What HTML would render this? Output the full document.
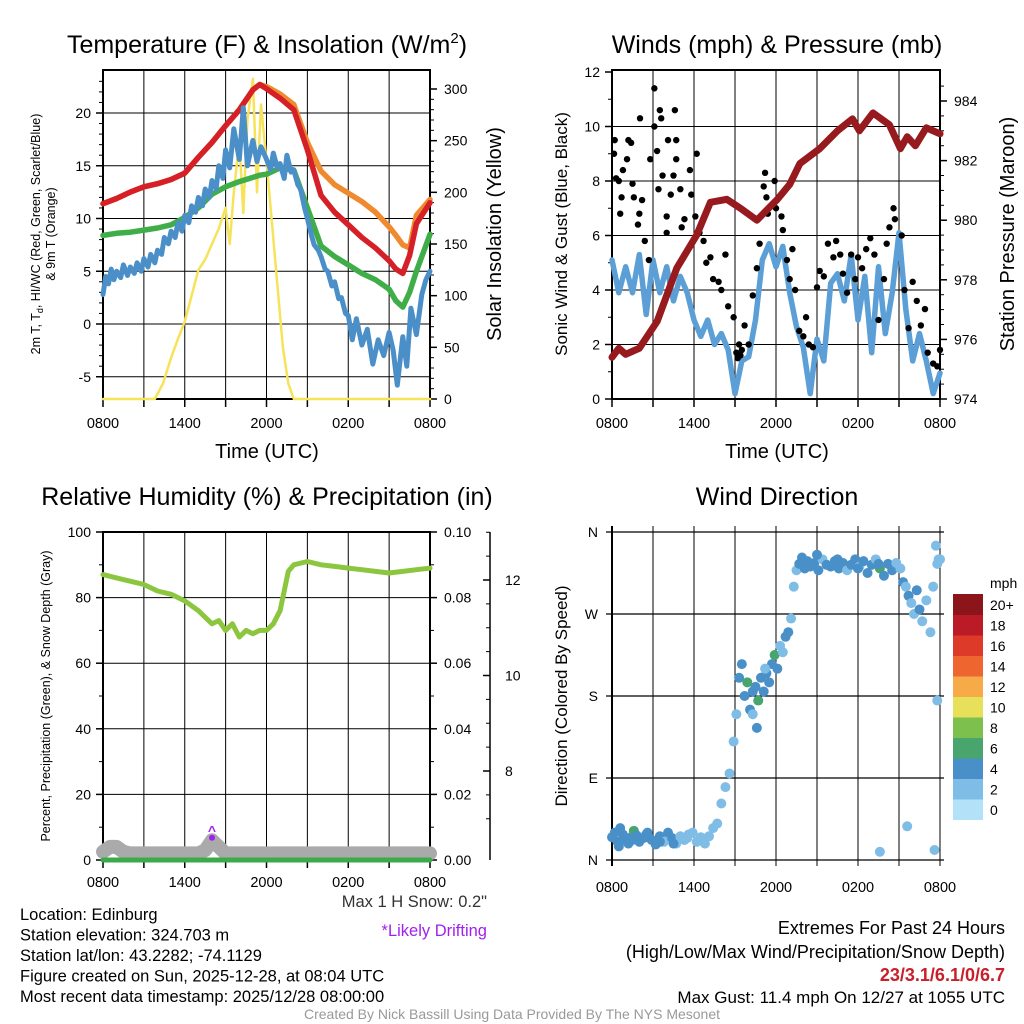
<!DOCTYPE html>
<html><head><meta charset="utf-8"><style>
html,body{margin:0;padding:0;background:#fff;}
svg{display:block;font-family:"Liberation Sans",Arial,sans-serif;}
</style></head><body>
<svg id="s" width="1024" height="1024" viewBox="0 0 1024 1024" xmlns="http://www.w3.org/2000/svg"></svg>
<script>
// ---------- DATA ----------
const hoursLabels = ["0800","1400","2000","0200","0800"];
const tempHours = [0,1,2,3,4,5,6,7,8,9,10,11,11.5,12,13,14,15,16,17,18,19,20,21,21.5,22,22.5,23,24];
const tempRed   = [11.4,11.9,12.5,13.0,13.3,13.7,14.3,15.8,17.2,18.8,20.3,22.2,22.7,22.3,21.4,20.3,16.5,12.2,10.6,9.4,8.2,7.2,6.0,5.2,4.8,6.5,9.5,11.5];
const tempOrange= [11.4,11.9,12.5,13.0,13.3,13.7,14.3,15.8,17.2,18.8,20.3,22.2,22.7,22.5,21.8,20.8,17.2,14.5,13.2,12.4,11.6,10.6,9.2,8.4,7.5,7.2,10.3,11.8];
const tempGreen = [8.4,8.6,8.7,8.9,9.1,9.4,10.1,11.0,12.3,13.0,13.5,13.9,14.1,14.2,14.8,14.6,11.0,7.4,6.4,5.6,4.8,4.2,3.3,2.2,1.6,3.0,5.0,8.5];
const dewHours = [0,0.2,0.4,0.6,0.8,1,1.3,1.5,1.8,2,2.3,2.5,2.8,3,3.3,3.5,3.8,4,4.3,4.5,4.8,5,5.3,5.5,5.8,6,6.3,6.5,6.8,7,7.3,7.5,7.8,8,8.3,8.5,8.8,9,9.3,9.6,10,10.3,10.6,11,11.3,11.6,12,12.3,12.5,12.8,13,13.3,13.5,13.8,14,14.3,14.5,14.8,15,15.3,15.5,15.8,16,16.3,16.5,16.8,17,17.3,17.5,17.8,18,18.3,18.6,19,19.4,19.8,20.2,20.6,21,21.3,21.6,22,22.3,22.6,23,23.4,23.7,24];
const dewVals  = [2.8,4.5,3.8,5.2,4.2,5.0,4.4,5.6,4.6,5.4,4.8,5.8,5.0,6.2,5.4,6.6,5.8,7.0,6.6,8.2,7.6,8.8,8.2,9.6,8.8,10.3,9.6,11.2,10.6,12.0,11.2,12.8,12.0,13.6,12.8,15.0,13.8,16.5,14.8,18.5,15.6,20.5,15.0,17.4,15.4,16.8,15.6,14.6,16.2,14.8,15.2,13.8,16.0,14.4,14.6,13.2,12.8,11.0,10.0,8.4,7.5,7.0,6.4,5.2,5.0,3.6,4.0,2.4,2.5,1.0,0.8,-1.5,0.5,-2.0,-0.5,-3.8,-1.5,-3.0,-0.8,-2.5,-5.8,-1.2,-4.0,1.5,-1.0,2.8,4.2,5.0];
const solarHours = [0,3.8,4.4,5,5.5,6,6.5,7,7.5,8,8.5,9,9.3,9.6,10,10.3,10.6,11,11.3,11.6,12,12.4,12.8,13.2,13.6,14,24];
const solarVals  = [0,0,15,40,58,75,100,125,135,150,165,185,150,200,250,180,270,310,200,285,230,170,110,50,15,0,0];
const windHours = [0,0.5,1,1.5,2,2.5,3,3.5,4,4.5,5,5.5,6,6.5,7,7.5,8,8.5,9,9.5,10,10.5,11,11.5,12,12.5,13,13.5,14,14.5,15,15.5,16,16.5,17,17.5,18,18.5,19,19.5,20,20.5,21,21.5,22,22.5,23,23.5,24];
const windVals  = [5.1,3.9,4.85,3.9,5.3,3.1,5.1,3.9,4.85,3.6,4.5,3.9,2.9,2.3,2.9,2.0,2.4,1.8,0.2,1.4,1.55,2.9,5.1,5.7,4.85,5.6,3.9,2.65,1.9,0.2,2.2,1.4,4.25,4.6,3.6,5.3,2.9,4.5,1.7,4.85,2.4,3.9,6.1,3.3,1.4,2.4,1.4,0.2,0.95];
const gustHours = [0.15,0.2,0.3,0.5,0.7,0.6,0.8,1.2,1.4,1.1,1.5,1.6,1.9,2.05,2,2.2,2.4,2.7,2.8,3.1,3.1,3.3,3.5,3.6,3.4,3.7,4,4,4.1,4.3,4.6,4.7,4.7,4.5,5,5.1,5.3,5.7,5.8,6.1,6.2,6.4,6.7,6.9,7.2,7.4,7.8,8,8.3,8.5,8.9,9.1,9.2,9.3,9.4,9.5,9.7,10,10.3,10.6,10.8,11.1,11.2,11.3,11.4,11.9,12,12.4,12.5,12.8,13,13.2,13.4,13.7,14,14.2,14.4,14.7,15,15.2,15.5,15.8,16.2,16.4,16.7,16.9,17.2,17.5,17.8,18,18.3,18.6,18.9,19.2,19.5,19.9,20.1,20.3,20.6,20.7,21.2,21.4,21.7,22,22.3,22.6,22.9,23.1,23.5,23.8,24];
const gustVals  = [9.0,9.5,8.1,8.0,7.4,6.8,8.4,9.5,9.4,8.8,7.9,7.4,6.4,10.3,6.8,7.3,5.8,5.1,8.8,11.4,10.0,9.1,10.6,10.3,7.7,8.2,6.7,6.1,9.5,7.5,10.6,9.5,8.8,8.2,7.7,6.3,6.6,8.4,7.5,6.7,9.0,6.1,5.8,5.0,5.2,4.4,4.3,4.0,5.3,3.4,3.0,1.7,1.5,2.0,1.6,1.8,2.7,2.0,3.8,4.8,5.7,7.8,8.3,7.4,6.8,8.0,7.0,6.7,6.2,5.1,4.4,5.5,4.0,2.5,2.3,3.0,2.0,1.9,4.1,4.7,4.5,5.7,5.2,5.8,5.3,4.6,3.9,5.3,4.4,5.2,4.8,5.5,5.9,5.3,2.9,4.4,5.7,6.3,7.0,6.6,6.0,4.0,2.6,4.3,3.6,2.7,3.3,1.7,1.3,1.2,1.8];
const presHours = [0,0.5,1,2,3.3,4.75,6.2,7.2,8.4,9.4,10.6,12.1,13,13.75,15.2,16.5,17.6,18.1,19.1,20.3,21.1,21.6,22.2,23,24];
const presVals  = [975.4,975.7,975.5,975.7,976.6,978.4,979.5,980.6,980.7,980.4,980.0,980.7,981.2,981.9,982.4,983.0,983.4,983.0,983.6,983.2,982.4,982.8,982.5,983.1,982.9];
const rhHours = [0,1,2,3,4,5,6,7,7.5,8,8.5,9,9.5,10,10.5,11,11.5,12,12.5,13,13.3,13.6,14,15,16,17,18,19,20,21,22,23,24];
const rhVals  = [87,86,85,84,82,81,79,76,74,72,73,70,72,68,70,69,70,70,72,76,82,88,90,91,90,89.5,89,88.5,88,87.5,88,88.5,89];
const snowHours = [0,0.5,1,1.5,2,3,4,5,6,7,7.5,8,8.5,9,10,11,12,14,16,18,20,22,24];
const snowVals  = [0.0025,0.004,0.004,0.0025,0.002,0.002,0.002,0.002,0.002,0.002,0.003,0.006,0.004,0.002,0.002,0.002,0.002,0.002,0.002,0.002,0.002,0.002,0.002];
const precipVals = [0,0];
const dirHours = [0,0.2,0.4,0.6,0.8,1,1.2,1.4,1.6,1.8,2,2.3,2.6,2.9,3.2,3.5,3.8,4.1,4.4,4.7,5,5.3,5.6,5.9,6.2,6.5,6.8,7.1,7.4,7.7,8,8.3,8.6,8.9,9.1,9.3,9.5,9.7,9.9,10.1,10.3,10.5,10.7,10.9,11.1,11.3,11.5,11.7,11.9,12.1,12.3,12.5,12.7,12.9,13.1,13.3,13.5,13.7,13.9,14.1,14.3,14.5,14.8,15.1,15.4,15.7,16,16.3,16.6,16.9,17.2,17.5,17.8,18.1,18.4,18.7,19,19.3,19.6,19.9,20.2,20.5,20.8,21.1,21.3,21.5,21.7,21.9,22.1,22.3,22.5,22.7,23,23.3,23.5,23.7,23.8,24,19.6,21.6,23.6,23.8,23.9,10.3,10.6,11.2,0.5,1.5,2.5,3.5,4.5,5.5,15,16.5,18,19.5];
const dirVals  = [25,30,20,35,28,22,18,25,32,27,20,24,30,22,17,26,20,30,24,18,26,22,28,30,20,25,18,26,35,40,62,80,95,130,160,200,215,180,195,165,185,190,175,200,185,205,195,215,225,210,235,228,245,250,265,300,318,325,332,320,328,322,326,318,330,324,322,328,320,326,318,324,330,322,328,315,324,330,320,312,325,318,326,320,305,300,290,282,270,296,275,262,285,250,300,345,325,330,9,37,11,175,330,160,145,210,15,22,28,20,18,24,335,330,320,325];
const dirSpeeds= [3,3,4,3,3,4,3,3,6,3,3,4,3,3,4,3,2,3,3,2,2,1,2,1,1,2,1,1,1,2,2,2,1,1,1,3,4,4,6,4,4,3,6,4,4,3,4,4,6,3,2,2,3,3,1,1,1,3,4,3,4,3,4,4,2,3,4,4,3,4,2,3,4,2,4,3,4,2,6,4,3,3,2,2,3,2,3,2,1,3,3,2,1,1,2,1,1,1,1,2,1,1,1,2,3,2,4,4,3,4,4,2,4,4,3,4];
const speedLevels = ["0","2","4","6","8","10","12","14","16","18","20+"];
const speedColors = ["#b3e2f8","#80bde6","#4a90c8","#48a56e","#7dc04e","#e6e05a","#f6aa48","#ef6530","#de3a2a","#bb1b26","#8c1519"];

// ---------- HELPERS ----------
const S = document.getElementById('s');
const NS = "http://www.w3.org/2000/svg";
function el(tag, attrs, parent){const e=document.createElementNS(NS,tag);for(const k in attrs)e.setAttribute(k,attrs[k]);(parent||S).appendChild(e);return e;}
function txt(x,y,s,size,anchor,color,extra){const t=el('text',Object.assign({x:x,y:y,'font-size':size,'text-anchor':anchor||'middle',fill:color||'#000'},extra||{}));t.textContent=s;return t;}
function lin(x1,y1,x2,y2,c,w){return el('line',{x1,y1,x2,y2,stroke:c||'#000','stroke-width':w||1});}
function makeX(x0,x1){return h=>x0+(x1-x0)*h/24;}
function makeY(vmin,vmax,y0,y1){return v=>y0+(y1-y0)*(v-vmin)/(vmax-vmin);}
function poly(xs,ys,fx,fy,color,w,name){const p=el('polyline',{points:xs.map((h,i)=>fx(h).toFixed(1)+','+fy(ys[i]).toFixed(1)).join(' '),fill:'none',stroke:color,'stroke-width':w,'stroke-linejoin':'round','stroke-linecap':'round'});

return p;}
function timeAxis(x0,x1,yb,ytop){const fx=makeX(x0,x1);
 for(let h=0;h<=24;h+=3){lin(fx(h),ytop,fx(h),yb,'#000',h%24==0?2:1); lin(fx(h),yb,fx(h),yb+8,'#000',1.5);}
 hoursLabels.forEach((l,i)=>{const t=txt(fx(i*6),yb+29,l,14.5);
 
 });}

// ---------- PANEL 1 ----------
(function(){
 const x0=103,x1=430,yT=70,yB=399;
 const fx=makeX(x0,x1), fy=makeY(0,20,324,113), fs=makeY(0,300,399,89);
 el('rect',{x:x0,y:yT,width:x1-x0,height:yB-yT,fill:'none',stroke:'#000','stroke-width':2});
 for(let v=-5;v<=20;v+=5){lin(x0,fy(v),x1,fy(v),'#000',1);lin(x0-7,fy(v),x0,fy(v),'#000',1.5);const t=txt(x0-12,fy(v)+5,String(v),14,'end');}
 for(let v=-5;v<=23;v++){if(v%5)lin(x0-4,fy(v),x0,fy(v),'#000',1);}
 for(let v=0;v<=300;v+=50){lin(x1,fs(v),x1+7,fs(v),'#000',1.5);txt(x1+14,fs(v)+5,String(v),14,'start');}
 for(let v=0;v<=300;v+=10){if(v%50)lin(x1,fs(v),x1+4,fs(v),'#000',1);}
 timeAxis(x0,x1,yB,yT);
 poly(solarHours,solarVals,fx,fs,'#f6e35a',2.5,'solar-insolation-line');
 poly(tempHours,tempOrange,fx,fy,'#f08a2e',5.5,'9m-temperature-line');
 poly(tempHours,tempRed,fx,fy,'#d62027',5.5,'2m-temperature-line');
 poly(tempHours,tempGreen,fx,fy,'#3fae49',5.5,'dewpoint-line');
 poly(dewHours,dewVals,fx,fy,'#4b8fc9',5,'wind-chill-line');
 const t=el('text',{x:267,y:53,'font-size':25,'text-anchor':'middle'});t.innerHTML='Temperature (F) &amp; Insolation (W/m<tspan font-size="15" dy="-10">2</tspan><tspan dy="10">)</tspan>';
 
 txt(267,458,'Time (UTC)',20);
 const yl=el('text',{transform:'translate(40,234) rotate(-90)','font-size':12.5,'text-anchor':'middle'});yl.innerHTML='2m T, T<tspan font-size="9" dy="3">d</tspan><tspan dy="-3">, HI/WC (Red, Green, Scarlet/Blue)</tspan>';
 
 txt(0,0,'& 9m T (Orange)',12.5,'middle','#000',{transform:'translate(55,234) rotate(-90)'});
 txt(0,0,'Solar Insolation (Yellow)',20,'middle','#000',{transform:'translate(501,234) rotate(-90)'});
})();

// ---------- PANEL 2 ----------
(function(){
 const x0=612,x1=940,yT=70,yB=399;
 const fx=makeX(x0,x1), fy=makeY(0,12,399,72), fp=makeY(974,984,399,101);
 el('rect',{x:x0,y:yT,width:x1-x0,height:yB-yT,fill:'none',stroke:'#000','stroke-width':2});
 for(let v=0;v<=12;v+=2){if(v>0&&v<12)lin(x0,fy(v),x1,fy(v),'#000',1);lin(x0-7,fy(v),x0,fy(v),'#000',1.5);txt(x0-12,fy(v)+5,String(v),14,'end');}
 for(let v=1;v<12;v+=2)lin(x0-4,fy(v),x0,fy(v),'#000',1);
 for(let v=974;v<=984;v+=2){lin(x1,fp(v),x1+7,fp(v),'#000',1.5);txt(x1+14,fp(v)+5,String(v),14,'start');}
 for(let v=974.5;v<985;v+=0.5){if(v%2)lin(x1,fp(v),x1+4,fp(v),'#000',1);}
 timeAxis(x0,x1,yB,yT);
 poly(windHours,windVals,fx,fy,'#5b9fd6',5.5,'sonic-wind-line');
 gustHours.forEach((h,i)=>{const c=el('circle',{cx:fx(h),cy:fy(gustVals[i]),r:3.2,fill:'#000'});
 
 });
 poly(presHours,presVals,fx,fp,'#961a1e',7,'station-pressure-line');
 txt(777,53,'Winds (mph) & Pressure (mb)',25);
 txt(777,458,'Time (UTC)',20);
 txt(0,0,'Sonic Wind & Gust (Blue, Black)',17,'middle','#000',{transform:'translate(567,234) rotate(-90)'});
 txt(0,0,'Station Pressure (Maroon)',20,'middle','#000',{transform:'translate(1014,234) rotate(-90)'});
})();

// ---------- PANEL 3 ----------
(function(){
 const x0=103,x1=430,yT=532,yB=860;
 const fx=makeX(x0,x1), fy=makeY(0,100,860,532), fp=makeY(0,0.1,860,532), fsd=makeY(8,12,771,580);
 el('rect',{x:x0,y:yT,width:x1-x0,height:yB-yT,fill:'none',stroke:'#000','stroke-width':2});
 for(let v=0;v<=100;v+=20){if(v>0&&v<100)lin(x0,fy(v),x1,fy(v),'#000',1);lin(x0-7,fy(v),x0,fy(v),'#000',1.5);txt(x0-12,fy(v)+5,String(v),14,'end');}
 for(let v=10;v<100;v+=20)lin(x0-4,fy(v),x0,fy(v),'#000',1);
 for(let v=0;v<=0.1001;v+=0.02){lin(x1,fp(v),x1+7,fp(v),'#000',1.5);txt(x1+14,fp(v)+5,v.toFixed(2),14,'start');}
 for(let v=0.01;v<0.1;v+=0.02)lin(x1,fp(v),x1+4,fp(v),'#000',1);
 lin(490,532,490,860,'#000',1.5);
 for(let v=8;v<=12;v+=2){lin(483,fsd(v),490,fsd(v),'#000',1.5);txt(505,fsd(v)+5,String(v),14,'start');}
 for(let v=7;v<=13;v+=0.5){if(v%2){const y=fsd(v);if(y>532&&y<860)lin(486,y,490,y,'#000',1);}}
 for(let h=0;h<=24;h+=3){lin(fx(h),yT,fx(h),yB,'#000',h%24==0?2:1); lin(fx(h),yB,fx(h),yB+8,'#000',1.5);}
 hoursLabels.forEach((l,i)=>txt(fx(i*6),yB+27,l,14.5));
 poly(snowHours,snowVals,fx,fp,'#aaaaaa',14,'snow-depth-band');
 poly([0,24],precipVals,fx,fp,'#3aaa4a',5,'precipitation-line');
 poly(rhHours,rhVals,fx,fy,'#8cc63f',5,'relative-humidity-line');
 txt(fx(8),fp(0.0075),'^',14,'middle','#a020f0',{'font-weight':'bold'});
 el('circle',{cx:fx(8),cy:fp(0.0068),r:3,fill:'#a020f0'});
 txt(267,505,'Relative Humidity (%) & Precipitation (in)',25);
 txt(0,0,'Percent, Precipitation (Green), & Snow Depth (Gray)',12.5,'middle','#000',{transform:'translate(50,696) rotate(-90)'});
 txt(487,907,'Max 1 H Snow: 0.2"',16.5,'end','#333');
 txt(487,936,'*Likely Drifting',16.5,'end','#a020f0');
})();

// ---------- PANEL 4 ----------
(function(){
 const x0=612,x1=940,yT=532,yB=860;
 const fx=makeX(x0,x1), fy=makeY(0,360,860,532);
 for(let d=0;d<=360;d+=90){lin(x0-6,fy(d),x1+4,fy(d),'#000',1.2);}
 lin(x0,yT-6,x0,yB+6,'#000',2);
 for(let h=3;h<=24;h+=3)lin(fx(h),yT-6,fx(h),yB+6,'#000',1);
 ['N','E','S','W','N'].forEach((l,i)=>txt(x0-14,fy(i*90)+5,l,14,'end'));
 hoursLabels.forEach((l,i)=>txt(fx(i*6),yB+32,l,14.5));
 dirHours.forEach((h,i)=>{const c=el('circle',{cx:fx(h),cy:fy(dirVals[i]),r:5,fill:speedColors[Math.min(10,Math.round(dirSpeeds[i]/2))]});
 
 });
 txt(777,505,'Wind Direction',25);
 txt(0,0,'Direction (Colored By Speed)',17,'middle','#000',{transform:'translate(567,696) rotate(-90)'});
 const cbx=953,cbTop=594,cbH=20.5;
 txt(990,588,'mph',14,'start');
 for(let i=0;i<11;i++){const r=el('rect',{x:cbx,y:cbTop+(10-i)*cbH,width:30,height:cbH+0.5,fill:speedColors[i]});
 
 
 txt(990,cbTop+(10-i)*cbH+16,speedLevels[i],14,'start');}
})();

// ---------- FOOTER ----------
["Location: Edinburg","Station elevation: 324.703 m","Station lat/lon: 43.2282; -74.1129","Figure created on Sun, 2025-12-28, at 08:04 UTC","Most recent data timestamp: 2025/12/28 08:00:00"].forEach((s,i)=>{const t=txt(20,920+i*20.5,s,16.5,'start');});
txt(1005,934,'Extremes For Past 24 Hours',18,'end');
txt(1005,958,'(High/Low/Max Wind/Precipitation/Snow Depth)',18,'end');
txt(1005,981,'23/3.1/6.1/0/6.7',18,'end','#c8202a',{'font-weight':'bold'});
txt(1005,1003,'Max Gust: 11.4 mph On 12/27 at 1055 UTC',17,'end');
txt(512,1019,'Created By Nick Bassill Using Data Provided By The NYS Mesonet',14,'middle','#999');
</script>
</body></html>
